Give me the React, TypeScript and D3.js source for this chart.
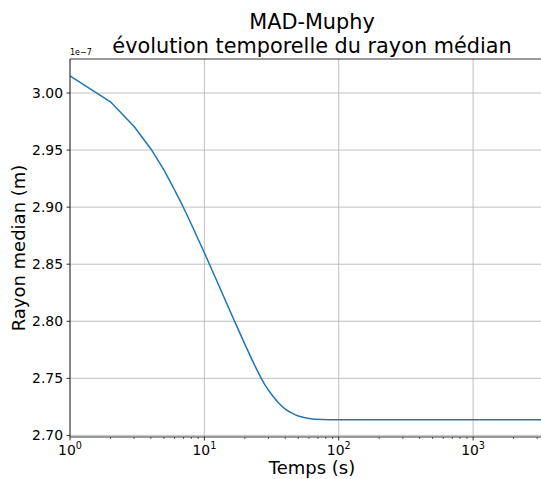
import React from "react";
import * as d3 from "d3";

// Data (radius in units of 1e-7 m)
const times = [1, 2, 3, 4, 5, 6, 7, 8, 10, 12, 14, 17, 20, 24, 28, 32, 36, 40, 45, 50, 60, 75, 100, 300, 1000, 4000];
const radius = [3.015, 2.9923, 2.9706, 2.951, 2.9326, 2.915, 2.8995, 2.885, 2.86, 2.839, 2.821, 2.7985, 2.78, 2.76, 2.745, 2.7352, 2.728, 2.723, 2.7195, 2.717, 2.7148, 2.7139, 2.7137, 2.7137, 2.7137, 2.7137];
const yTicks = [2.7, 2.75, 2.8, 2.85, 2.9, 2.95, 3.0];
const xTickExps = [0, 1, 2, 3];
const titleLines = ["MAD-Muphy", "évolution temporelle du rayon médian"];
const xLabel = "Temps (s)";
const yLabel = "Rayon median (m)";
const offsetText = "1e\u22127";

const W = 541, H = 479;
const L = 70, R = 554, T = 59, B = 437;
const FONT = "DejaVu Sans, sans-serif";

export default function App() {
  const x = d3.scaleLog().domain([1, 4000]).range([L, R]);
  const yMin = 2.6986, yMax = 3.0298;
  const y = d3.scaleLinear().domain([yMin, yMax]).range([B, T]);

  const pts = times.map((t, i) => [t, radius[i]] as [number, number]);
  const early = pts.filter(d => d[0] <= 5);
  const late = pts.filter(d => d[0] >= 5);
  const lineLin = d3.line<[number, number]>()
    .x(d => x(d[0]))
    .y(d => y(d[1]));
  const lineSmooth = d3.line<[number, number]>()
    .x(d => x(d[0]))
    .y(d => y(d[1]))
    .curve(d3.curveMonotoneX);

  const minorTicks: number[] = [];
  for (let e = 0; e <= 3; e++) {
    for (let m = 2; m <= 9; m++) {
      const v = m * Math.pow(10, e);
      if (v <= 4000) minorTicks.push(v);
    }
  }
  const titleX = (L + R) / 2;

  return (
    <svg width={W} height={H} style={{ position: "absolute", left: 0, top: 0, background: "#fff" }} fontFamily={FONT}>
      <defs>
        <clipPath id="plotclip">
          <rect x={L} y={T} width={R - L} height={B - T} />
        </clipPath>
      </defs>
      {/* grid */}
      {yTicks.map(v => (
        <line key={"gy" + v} x1={L} x2={R} y1={y(v)} y2={y(v)} stroke="#b0b0b0" strokeWidth={0.8} />
      ))}
      {xTickExps.map(e => (
        <line key={"gx" + e} x1={x(Math.pow(10, e))} x2={x(Math.pow(10, e))} y1={T} y2={B} stroke="#b0b0b0" strokeWidth={0.8} />
      ))}
      {/* data line */}
      <g clipPath="url(#plotclip)" fill="none" stroke="#1f77b4" strokeWidth={1.5} strokeLinejoin="round" strokeLinecap="butt">
        <path d={lineLin(early) || ""} />
        <path d={lineSmooth(late) || ""} />
      </g>
      {/* spines */}
      <line x1={L} x2={L} y1={T} y2={B} stroke="#000" strokeWidth={0.8} />
      <line x1={L} x2={R} y1={B} y2={B} stroke="#000" strokeWidth={0.8} />
      <line x1={L} x2={R} y1={T} y2={T} stroke="#000" strokeWidth={0.8} />
      <line x1={R} x2={R} y1={T} y2={B} stroke="#000" strokeWidth={0.8} />
      {/* y ticks */}
      {yTicks.map(v => (
        <g key={"yt" + v}>
          <line x1={L - 3.5} x2={L} y1={y(v)} y2={y(v)} stroke="#000" strokeWidth={0.8} />
          <text x={L - 7} y={y(v)} dy="0.35em" textAnchor="end" fontSize={13.9} fill="#000">{v.toFixed(2)}</text>
        </g>
      ))}
      {/* x major ticks */}
      {xTickExps.map(e => {
        const px = x(Math.pow(10, e));
        return (
          <g key={"xt" + e}>
            <line x1={px} x2={px} y1={B} y2={B + 3.5} stroke="#000" strokeWidth={0.8} />
            <text x={px} y={455} textAnchor="middle" fontSize={13.9} fill="#000">
              10<tspan fontSize={9.7} dy={-6}>{e}</tspan>
            </text>
          </g>
        );
      })}
      {/* x minor ticks */}
      {minorTicks.map(v => (
        <line key={"mt" + v} x1={x(v)} x2={x(v)} y1={B} y2={B + 2} stroke="#000" strokeWidth={0.6} />
      ))}
      {/* offset text */}
      <text x={L} y={55} fontSize={8} fill="#000">{offsetText}</text>
      {/* title */}
      <text x={titleX} y={28.5} textAnchor="middle" fontSize={20.8} fill="#000">{titleLines[0]}</text>
      <text x={titleX} y={53} textAnchor="middle" fontSize={20.8} fill="#000">{titleLines[1]}</text>
      {/* axis labels */}
      <text x={(L + R) / 2} y={474} textAnchor="middle" fontSize={18} fill="#000">{xLabel}</text>
      <text transform={`translate(25, ${(T + B) / 2}) rotate(-90)`} textAnchor="middle" fontSize={18} fill="#000">{yLabel}</text>
    </svg>
  );
}
